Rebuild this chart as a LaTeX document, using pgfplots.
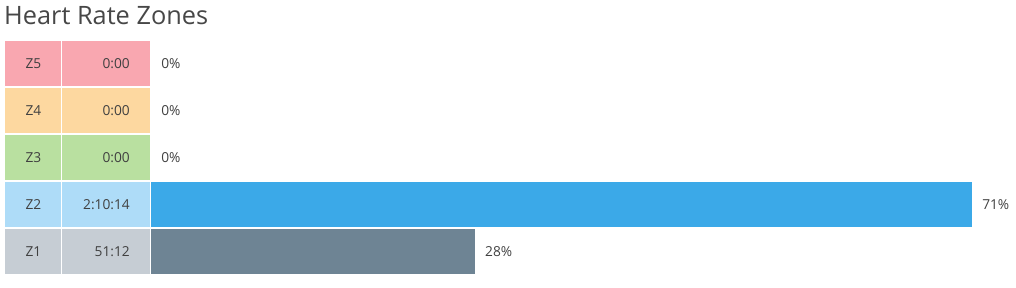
\documentclass[border=0pt]{standalone}
\usepackage{pgfplots}
\pgfplotsset{compat=1.18}
\usepackage{pgfplotstable}
\usepackage{fontspec}
\setmainfont{Open Sans}
\definecolor{zfive}{HTML}{F9A7B0}
\definecolor{zfour}{HTML}{FDD8A0}
\definecolor{zthree}{HTML}{B9E0A0}
\definecolor{ztwo}{HTML}{AEDCF8}
\definecolor{zone}{HTML}{C6CDD4}
\definecolor{ztwobar}{HTML}{3BA9E8}
\definecolor{zonebar}{HTML}{6E8494}
\definecolor{txt}{HTML}{404040}
\newcommand\lblfont{\fontsize{10.3}{12}\selectfont}
% row centres in pixel units (y up), pct = share of time in zone
\pgfplotstableread{
y zone time pct plabel
224.5 Z5 0:00 0 0
177.5 Z4 0:00 0 0
130.5 Z3 0:00 0 0
83.5 Z2 2:10:14 71.64 71
36.5 Z1 51:12 28.27 28
}\zones
\begin{document}
\begin{tikzpicture}
\useasboundingbox (0,0) rectangle (762pt,216pt);
\begin{axis}[
  scale only axis, width=762pt, height=216pt,
  xmin=-13.176, xmax=75.48, ymin=0, ymax=288,
  hide axis, clip=false,
]
% zone cells (x in percent units: 1% = 11.46 px)
\addplot[fill=zfive,draw=none] coordinates {(-12.740,202)(-7.853,202)(-7.853,247)(-12.740,247)} -- cycle;
\addplot[fill=zfive,draw=none] coordinates {(-7.766,202)(-0.087,202)(-0.087,247)(-7.766,247)} -- cycle;
\addplot[fill=zfour,draw=none] coordinates {(-12.740,155)(-7.853,155)(-7.853,200)(-12.740,200)} -- cycle;
\addplot[fill=zfour,draw=none] coordinates {(-7.766,155)(-0.087,155)(-0.087,200)(-7.766,200)} -- cycle;
\addplot[fill=zthree,draw=none] coordinates {(-12.740,108)(-7.853,108)(-7.853,153)(-12.740,153)} -- cycle;
\addplot[fill=zthree,draw=none] coordinates {(-7.766,108)(-0.087,108)(-0.087,153)(-7.766,153)} -- cycle;
\addplot[fill=ztwo,draw=none] coordinates {(-12.740,61)(-7.853,61)(-7.853,106)(-12.740,106)} -- cycle;
\addplot[fill=ztwo,draw=none] coordinates {(-7.766,61)(-0.087,61)(-0.087,106)(-7.766,106)} -- cycle;
\addplot[fill=zone,draw=none] coordinates {(-12.740,14)(-7.853,14)(-7.853,59)(-12.740,59)} -- cycle;
\addplot[fill=zone,draw=none] coordinates {(-7.766,14)(-0.087,14)(-0.087,59)(-7.766,59)} -- cycle;
% bars
\addplot[xbar, bar width=45, bar shift=0pt, fill=ztwobar, draw=none] coordinates {(71.64,83.5)};
\addplot[xbar, bar width=45, bar shift=0pt, fill=zonebar, draw=none] coordinates {(28.27,36.5)};
% labels
\addplot[draw=none, nodes near coords, point meta=explicit symbolic,
  nodes near coords style={anchor=center, inner sep=0pt, font=\lblfont, text=txt}]
  table[x expr=-10.253, y=y, meta=zone]{\zones};
\addplot[draw=none, nodes near coords, point meta=explicit symbolic,
  nodes near coords style={anchor=east, inner sep=0pt, font=\lblfont, text=txt}]
  table[x expr=-1.832, y=y, meta=time]{\zones};
\addplot[draw=none, nodes near coords={\pgfplotspointmeta\%}, point meta=explicit symbolic,
  nodes near coords style={anchor=west, xshift=7.5pt, inner sep=0pt, font=\lblfont, text=txt}]
  table[x=pct, y=y, meta=plabel]{\zones};
\node[anchor=base west, inner sep=0pt, font=\fontsize{19}{22}\selectfont, text=black!72]
  at (axis cs:-12.83,263.5) {Heart Rate Zones};
\end{axis}
\end{tikzpicture}
\end{document}
